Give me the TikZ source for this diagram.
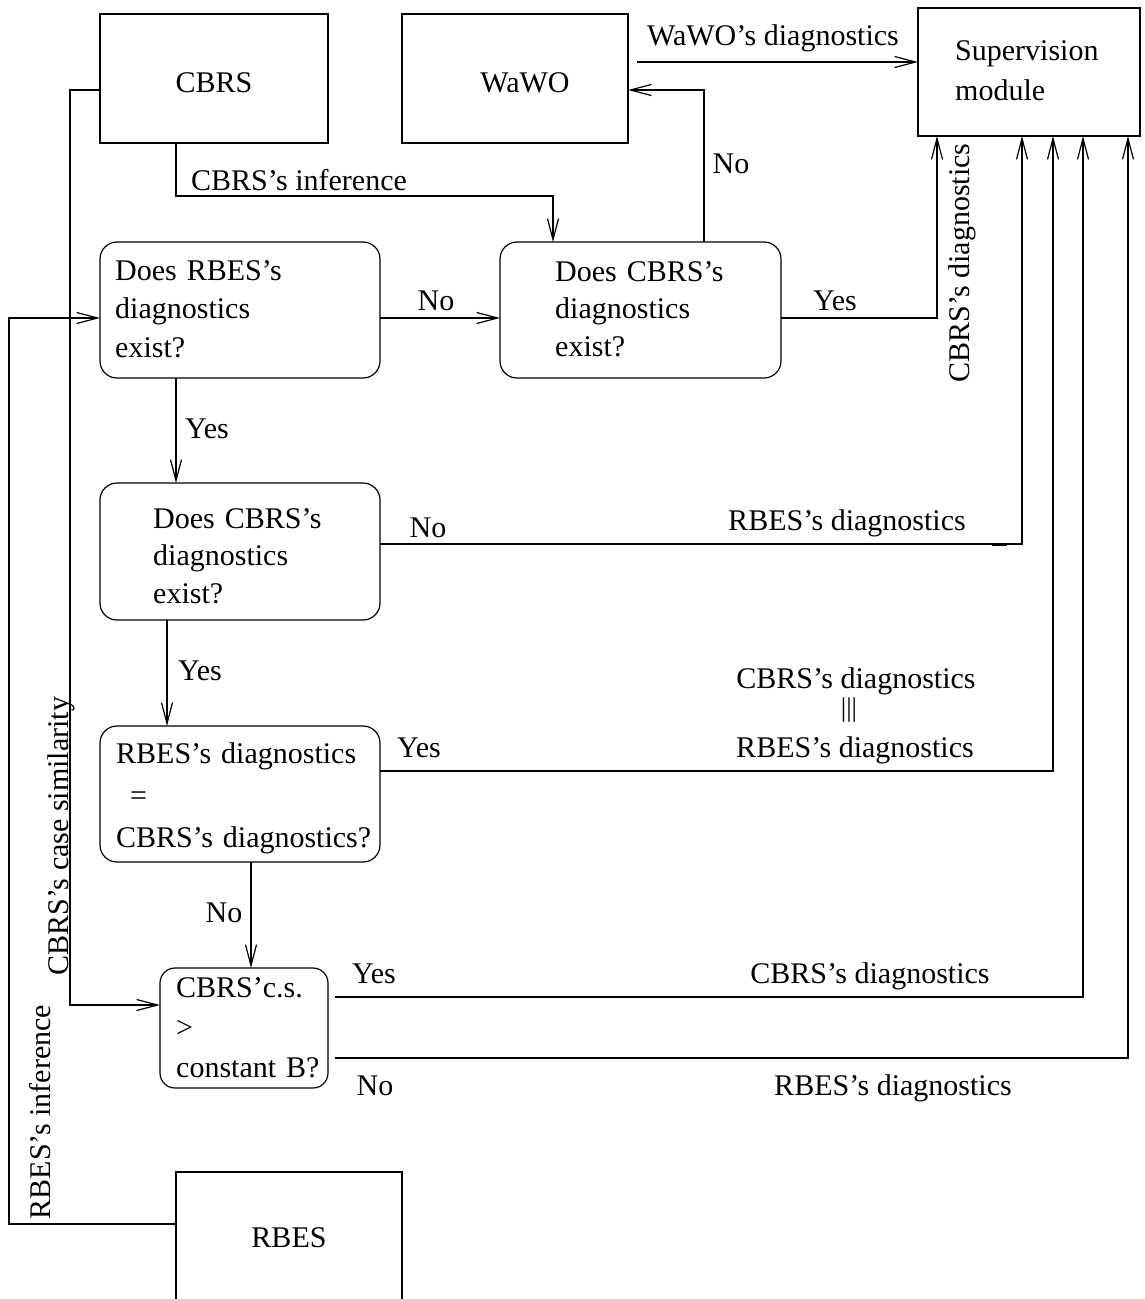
\documentclass[tikz,border=0pt]{standalone}
\usepackage{fontspec}
\setmainfont{Liberation Serif}
\usetikzlibrary{arrows.meta}
\tikzset{
  every node/.style={font=\fontsize{30}{39}\selectfont},
  ln/.style={line width=1.2pt},
  arr/.style={ln, -{Straight Barb[length=21pt,width=11pt,line width=1.2pt]}},
  plainbox/.style={draw, ln, anchor=north west, inner sep=0pt, outer sep=0pt},
  roundbox/.style={plainbox, rounded corners=17pt},
  txt/.style={anchor=base west, align=left, inner sep=0pt, text width=330pt},
  lbl/.style={anchor=base, inner sep=0pt}
}
\begin{document}
\begin{tikzpicture}[x=1pt,y=-1pt]
\useasboundingbox (0,0) rectangle (1144,1299);
% boxes
\node[plainbox, minimum width=228pt, minimum height=129pt] (cbrs) at (100,14) {};
\node[plainbox, minimum width=226pt, minimum height=129pt] (wawo) at (402,14) {};
\node[plainbox, minimum width=222pt, minimum height=128pt] (sup) at (918,8) {};
\node[roundbox, minimum width=280pt, minimum height=136pt] (q1) at (100,242) {};
\node[roundbox, minimum width=281pt, minimum height=136pt] (q2) at (500,242) {};
\node[roundbox, minimum width=280pt, minimum height=137pt] (q3) at (100,483) {};
\node[roundbox, minimum width=280pt, minimum height=136pt] (q4) at (100,726) {};
\node[roundbox, rounded corners=15pt, minimum width=168pt, minimum height=120pt] (q5) at (160,968) {};
\node[anchor=north west, inner sep=0pt, outer sep=0pt, minimum width=226pt, minimum height=140pt] (rbes) at (176,1172) {};
\draw[ln] (rbes.south west) -- (rbes.north west) -- (rbes.north east) -- (rbes.south east);
% box texts
\node[lbl] (cbrst) at (214,92) {CBRS};
\node[lbl] (wawot) at (525,92) {WaWO};
\node[lbl] (rbest) at (289,1247) {RBES};
\node[txt, font=\fontsize{30}{40}\selectfont] (supt) at (955,60) {Supervision\\module};
\node[txt, font=\fontsize{30}{38.5}\selectfont] (q1t) at (115,280) {Does RBES's\\diagnostics\\exist?};
\node[txt, font=\fontsize{30}{37.5}\selectfont] (q2t) at (555,281) {Does CBRS's\\diagnostics\\exist?};
\node[txt, font=\fontsize{30}{37.5}\selectfont] (q3t) at (153,528) {Does CBRS's\\diagnostics\\exist?};
\node[txt, font=\fontsize{30}{42}\selectfont] (q4t) at (116,763) {RBES's diagnostics\\\hspace*{14pt}=\\CBRS's diagnostics?};
\node[txt, font=\fontsize{30}{40}\selectfont] (q5t) at (176,997) {CBRS'c.s.\\>\\constant B?};
% helper coordinates
\coordinate (wd0) at (637,62);
\coordinate (n1) at (704,90);
\coordinate (ci) at (176,196);
\coordinate (ci2) at (553,196);
\coordinate (y1) at (937,318);
\coordinate (ri1) at (9,1224);
\coordinate (ri2) at (9,318);
\coordinate (cs1) at (70,90);
\coordinate (cs2) at (70,1005);
\coordinate (v1) at (176,0);
\coordinate (v2) at (167,0);
\coordinate (v3) at (251,0);
\coordinate (h3) at (1022,544);
\coordinate (h4) at (1053,771);
\coordinate (h5a) at (335,997);
\coordinate (h5) at (1083,997);
\coordinate (h6a) at (335,1058);
\coordinate (h6) at (1128,1058);
% connectors
\draw[arr] (wd0) -- (wd0 -| sup.west);
\draw[arr] (q2.north -| n1) -- (n1) -- (n1 -| wawo.east);
\draw[arr] (cbrs.south -| ci) -- (ci) -- (ci2) -- (ci2 |- q2.north);
\draw[arr] (q2.east |- y1) -- (y1) -- (y1 |- sup.south);
\draw[arr] (q1.east |- y1) -- (q2.west |- y1);
\draw[arr] (rbes.west |- ri1) -- (ri1) -- (ri2) -- (q1.west |- ri2);
\draw[arr] (cbrs.west |- cs1) -- (cs1) -- (cs2) -- (q5.west |- cs2);
\draw[arr] (q1.south -| v1) -- (q3.north -| v1);
\draw[arr] (q3.south -| v2) -- (q4.north -| v2);
\draw[arr] (q4.south -| v3) -- (q5.north -| v3);
\draw[arr] (q3.east |- h3) -- (h3) -- (h3 |- sup.south);
\draw[arr] (q4.east |- h4) -- (h4) -- (h4 |- sup.south);
\draw[arr] (h5a) -- (h5) -- (h5 |- sup.south);
\draw[arr] (h6a) -- (h6) -- (h6 |- sup.south);
\draw[line width=2.4pt] (992,545) -- (1007,545);
% labels
\node[lbl] (l1) at (773,45) {WaWO's diagnostics};
\node[lbl] (l2) at (731,173) {No};
\node[lbl] (l3) at (299,190) {CBRS's inference};
\node[lbl] (l4) at (835,310) {Yes};
\node[lbl, rotate=90] (l5) at (969,263) {CBRS's diagnostics};
\node[lbl] (l6) at (436,310) {No};
\node[lbl] (l7) at (207,438) {Yes};
\node[lbl] (l8) at (428,537) {No};
\node[lbl] (l9) at (847,530) {RBES's diagnostics};
\node[lbl] (l10) at (200,680) {Yes};
\node[lbl] (l11) at (856,688) {CBRS's diagnostics};
\node[lbl, font=\fontsize{27}{27}\selectfont] (l12) at (849,716) {|||};
\node[lbl] (l13) at (855,757) {RBES's diagnostics};
\node[lbl] (l14) at (419,757) {Yes};
\node[lbl] (l15) at (224,922) {No};
\node[lbl] (l16) at (374,983) {Yes};
\node[lbl] (l17) at (870,983) {CBRS's diagnostics};
\node[lbl] (l18) at (375,1095) {No};
\node[lbl] (l19) at (893,1095) {RBES's diagnostics};
\node[lbl, rotate=90] (l20) at (68,836) {CBRS's case similarity};
\node[lbl, rotate=90] (l21) at (50,1112) {RBES's inference};
\end{tikzpicture}
\end{document}
